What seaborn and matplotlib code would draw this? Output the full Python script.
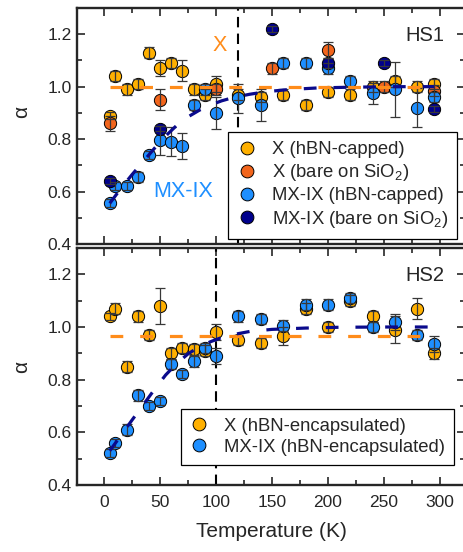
import matplotlib
matplotlib.use("Agg")
import matplotlib.pyplot as plt
from matplotlib.lines import Line2D
from matplotlib.ticker import MultipleLocator, FormatStrFormatter
import pandas as pd
import seaborn as sns

# ---------------- HS1 ----------------
t_x_cap = [5, 10, 20, 30, 40, 50, 60, 70, 80, 90, 100, 120, 140, 160, 180, 200, 220, 240, 260, 280, 295]
a_x_cap = [0.89, 1.04, 0.99, 1.01, 1.13, 1.07, 1.09, 1.06, 0.99, 0.97, 1.01, 0.97, 0.96, 0.97, 0.93, 0.98,
           0.97, 1.00, 1.02, 1.00, 1.01]
e_x_cap = [0.015, 0.02, 0.02, 0.02, 0.02, 0.03, 0.02, 0.04, 0.02, 0.02, 0.03, 0.02, 0.02, 0.02, 0.02, 0.02,
           0.02, 0.02, 0.02, 0.02, 0.02]

t_x_bare = [5, 50, 100, 150, 200, 250, 295]
a_x_bare = [0.86, 0.95, 0.99, 1.07, 1.14, 1.00, 0.985]
e_x_bare = [0.03, 0.04, 0.02, 0.02, 0.03, 0.02, 0.02]

t_ix_cap = [5, 10, 20, 30, 40, 50, 60, 70, 80, 90, 100, 120, 140, 160, 180, 200, 220, 240, 260, 280, 295]
a_ix_cap = [0.555, 0.62, 0.62, 0.655, 0.74, 0.795, 0.79, 0.775, 0.93, 0.99, 0.90, 0.955, 0.93, 1.09, 1.09,
            1.07, 1.02, 0.975, 0.99, 0.92, 0.96]
e_ix_cap = [0.015, 0.015, 0.015, 0.02, 0.015, 0.055, 0.055, 0.05, 0.02, 0.02, 0.06, 0.055, 0.06, 0.02, 0.02,
            0.02, 0.02, 0.04, 0.105, 0.075, 0.02]

t_ix_bare = [5, 50, 150, 200, 250, 295]
a_ix_bare = [0.64, 0.84, 1.22, 1.09, 1.09, 0.915]
e_ix_bare = [0.01, 0.01, 0.01, 0.02, 0.01, 0.01]

# model curves for HS1
fit_x1_t = [5, 295]
fit_x1_a = [1.0, 1.0]
fit_ix1_t = [5, 15, 25, 35, 45, 55, 65, 75, 85, 95, 105, 115, 130, 145, 165, 190, 220, 260, 295]
fit_ix1_a = [0.555, 0.612, 0.665, 0.715, 0.765, 0.812, 0.853, 0.885, 0.910, 0.930, 0.946, 0.958, 0.971,
             0.981, 0.989, 0.995, 0.998, 1.0, 1.0]
t_cross1 = 120

# ---------------- HS2 ----------------
t_hs2 = [5, 10, 20, 30, 40, 50, 60, 70, 80, 90, 100, 120, 140, 160, 180, 200, 220, 240, 260, 280, 295]
a_x_enc = [1.04, 1.07, 0.85, 1.04, 0.97, 1.08, 0.90, 0.92, 0.915, 0.91, 0.98, 0.95, 0.94, 0.965, 1.07, 1.00,
           1.10, 1.04, 0.99, 1.07, 0.90]
e_x_enc = [0.015, 0.02, 0.02, 0.02, 0.02, 0.07, 0.02, 0.02, 0.02, 0.02, 0.03, 0.02, 0.02, 0.035, 0.02, 0.02,
           0.02, 0.02, 0.05, 0.04, 0.02]
a_ix_enc = [0.52, 0.56, 0.61, 0.74, 0.70, 0.72, 0.86, 0.82, 0.87, 0.92, 0.89, 1.04, 1.03, 1.005, 1.085, 1.085,
            1.11, 1.00, 1.02, 0.97, 0.935]
e_ix_enc = [0.015, 0.015, 0.02, 0.02, 0.015, 0.015, 0.02, 0.015, 0.02, 0.02, 0.03, 0.02, 0.02, 0.02, 0.02, 0.02,
            0.02, 0.02, 0.03, 0.02, 0.03]

fit_x2_t = [5, 290]
fit_x2_a = [0.965, 0.965]
fit_ix2_t = [5, 15, 25, 35, 45, 55, 65, 75, 85, 95, 105, 115, 130, 150, 180, 210, 250, 290]
fit_ix2_a = [0.530, 0.588, 0.647, 0.705, 0.763, 0.818, 0.862, 0.898, 0.925, 0.944, 0.960, 0.971, 0.983,
             0.991, 0.996, 0.999, 1.0, 1.0]
t_cross2 = 100

# ---------------- style ----------------
C_X = "#FFB000"
C_XB = "#F2651C"
C_IX = "#1E8FFF"
C_IXB = "#00008C"
C_FITX = "#FF8C1A"
C_FITIX = "#0A0A8C"

sns.set_style("ticks")
plt.rcParams["font.family"] = ["Liberation Sans", "DejaVu Sans"]
plt.rcParams["mathtext.fontset"] = "custom"
plt.rcParams["mathtext.rm"] = "Liberation Sans"
plt.rcParams["mathtext.it"] = "Liberation Sans:italic"
plt.rcParams["mathtext.default"] = "regular"
plt.rcParams["xtick.direction"] = "in"
plt.rcParams["ytick.direction"] = "in"
plt.rcParams["xtick.top"] = True
plt.rcParams["ytick.right"] = True

fig = plt.figure(figsize=(4.64, 5.52), dpi=100)
ax1 = fig.add_axes([0.1666, 0.558, 0.8356, 0.4275])
ax2 = fig.add_axes([0.1666, 0.1214, 0.8356, 0.4293])

MS = 78
EDGE = 0.7


def draw_series(ax, t, a, e, color):
    df = pd.DataFrame({"T": t, "alpha": a})
    sns.scatterplot(data=df, x="T", y="alpha", ax=ax, color=color, s=MS,
                    edgecolor="black", linewidth=EDGE, zorder=3, legend=False)
    ax.errorbar(t, a, yerr=e, fmt="none", ecolor="#383838", elinewidth=0.9,
                capsize=3.6, capthick=0.9, zorder=4)


def draw_fit(ax, t, a, color):
    df = pd.DataFrame({"T": t, "alpha": a})
    sns.lineplot(data=df, x="T", y="alpha", ax=ax, color=color, lw=2.3,
                 linestyle=(0, (4.0, 5.3)), zorder=5, sort=False)


def legend_handle(color):
    return Line2D([], [], ls="none", marker="o", ms=9.2, mfc=color, mec="black", mew=EDGE)


def style_axes(ax):
    ax.set_xlim(-24, 322.5)
    ax.set_ylim(0.4, 1.3)
    ax.xaxis.set_major_locator(MultipleLocator(50))
    ax.xaxis.set_minor_locator(MultipleLocator(25))
    ax.yaxis.set_major_locator(MultipleLocator(0.2))
    ax.yaxis.set_minor_locator(MultipleLocator(0.1))
    ax.yaxis.set_major_formatter(FormatStrFormatter("%.1f"))
    ax.tick_params(which="both", direction="in", top=True, right=True,
                   bottom=True, left=True, width=1.2)
    ax.tick_params(which="major", length=5.5, labelsize=12.5)
    ax.tick_params(which="minor", length=3.3)
    ax.tick_params(axis="x", pad=7)
    ax.tick_params(axis="y", pad=4)
    for sp in ax.spines.values():
        sp.set_linewidth(1.7)
        sp.set_visible(True)
    ax.set_xlabel("")
    ax.set_ylabel("\u03b1", fontsize=15)


LEG_KW = dict(loc="lower right", borderaxespad=0, fontsize=13.3, frameon=True,
              fancybox=False, framealpha=1, edgecolor="black", borderpad=0.5,
              labelspacing=0.22, handlelength=1.0, handletextpad=0.85)

# ---- HS1 panel ----
draw_series(ax1, t_x_cap, a_x_cap, e_x_cap, C_X)
draw_series(ax1, t_x_bare, a_x_bare, e_x_bare, C_XB)
draw_series(ax1, t_ix_cap, a_ix_cap, e_ix_cap, C_IX)
draw_series(ax1, t_ix_bare, a_ix_bare, e_ix_bare, C_IXB)
draw_fit(ax1, fit_x1_t, fit_x1_a, C_FITX)
draw_fit(ax1, fit_ix1_t, fit_ix1_a, C_FITIX)
ax1.axvline(t_cross1, color="black", lw=1.5, ls=(0, (5, 3)), zorder=2)
style_axes(ax1)
ax1.tick_params(axis="x", labelbottom=False)
ax1.yaxis.set_label_coords(-0.12, 0.56)
ax1.text(103.4, 1.156, "X", color=C_FITX, fontsize=15.5, ha="center", va="center")
ax1.text(43.5, 0.60, "MX-IX", color=C_IX, fontsize=15.5, ha="left", va="center")
ax1.text(0.948, 0.882, "HS1", transform=ax1.transAxes, fontsize=14.5, ha="right", va="center")
leg1 = ax1.legend(
    [legend_handle(C_X), legend_handle(C_XB), legend_handle(C_IX), legend_handle(C_IXB)],
    ["X (hBN-capped)", "X (bare on SiO$_{2}$)", "MX-IX (hBN-capped)", "MX-IX (bare on SiO$_{2}$)"],
    bbox_to_anchor=(0.980, 0.022), **LEG_KW)
leg1.get_frame().set_linewidth(0.9)
leg1.set_zorder(10)

# ---- HS2 panel ----
draw_series(ax2, t_hs2, a_x_enc, e_x_enc, C_X)
draw_series(ax2, t_hs2, a_ix_enc, e_ix_enc, C_IX)
draw_fit(ax2, fit_x2_t, fit_x2_a, C_FITX)
draw_fit(ax2, fit_ix2_t, fit_ix2_a, C_FITIX)
ax2.axvline(t_cross2, color="black", lw=1.5, ls=(0, (5, 3)), zorder=2)
style_axes(ax2)
ax2.set_xlabel("Temperature (K)", fontsize=15, labelpad=9)
ax2.yaxis.set_label_coords(-0.12, 0.5)
ax2.text(0.948, 0.882, "HS2", transform=ax2.transAxes, fontsize=14.5, ha="right", va="center")
leg2 = ax2.legend(
    [legend_handle(C_X), legend_handle(C_IX)],
    ["X (hBN-encapsulated)", "MX-IX (hBN-encapsulated)"],
    bbox_to_anchor=(0.972, 0.084), **LEG_KW)
leg2.get_frame().set_linewidth(0.9)
leg2.set_zorder(10)

fig.savefig("out.png", dpi=100)
